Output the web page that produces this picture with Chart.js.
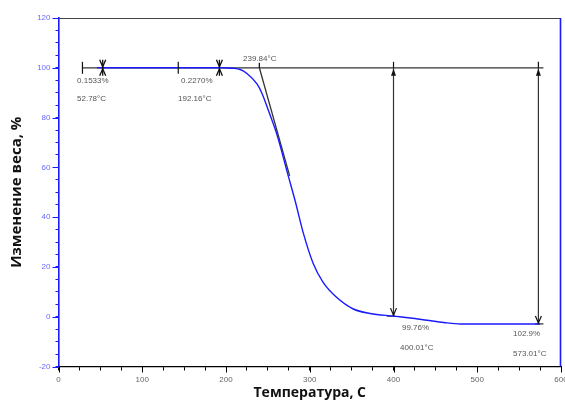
<!DOCTYPE html>
<html><head><meta charset="utf-8">
<script src="https://cdn.jsdelivr.net/npm/chart.js@4/dist/chart.umd.min.js"></script>
<style>html,body{margin:0;padding:0;background:#fff}#wrap{width:565px;height:403px}</style>
</head><body><div id="wrap"><canvas id="c" width="565" height="403"></canvas></div>
<script>
// ---- data ----
const tempC = [46,100,150,195,208,217,225,237,243,251,261,274,283,292,304,316,332,352,372,400,420,440,460,480,575];
const weightPct = [100,100,100,100,99.8,99.3,97.7,93.5,89.7,82.5,73,57,46,34,21.5,13.8,7.8,3.1,1.3,0.24,-0.5,-1.4,-2.3,-2.9,-2.9];
const xTickLabels = [0,100,200,300,400,500,600];
const yTickLabels = [-20,0,20,40,60,80,100,120];
// analysis markers
const onsetT = 239.84, tangentEnd = [276, 56.6];
const baseline = [[28.6,100],[579,100]];
const stepTemps = [52.78, 192.16];
const stepLosses = ['0.1533%','0.2270%'];
const arrowTemps = [400.01, 573.01];
const arrowEnds = [0.24, -2.9];
const arrowLabels = ['99.76%','102.9%'];
// label anchors (data coords)
const labels = [
  {t:'0.1533%', x:22.1, y:94.6},
  {t:'52.78°C', x:22.1, y:87.4},
  {t:'0.2270%', x:146.3, y:94.6},
  {t:'192.16°C', x:142.7, y:87.4},
  {t:'239.84°C', x:220.3, y:103.5},
  {t:'99.76%', x:410.1, y:-4.3},
  {t:'400.01°C', x:407.8, y:-12.3},
  {t:'102.9%', x:542.7, y:-6.7},
  {t:'573.01°C', x:542.7, y:-14.8}
];

const BLUE = '#1a1aff';
const pts = tempC.map((t,i)=>({x:t,y:weightPct[i]}));
const blk = (data,w)=>({data, borderColor:'#333', borderWidth:w||1.2, pointRadius:0, fill:false, tension:0});

const annot = {
  id:'annot',
  afterDatasetsDraw(chart){
    const {ctx, chartArea:a, scales:{x,y}} = chart;
    ctx.save();
    // top and right border
    ctx.lineWidth = 1.2; ctx.strokeStyle = '#444';
    ctx.beginPath(); ctx.moveTo(a.left, a.top+0.5); ctx.lineTo(a.right, a.top+0.5); ctx.stroke();
    ctx.lineWidth = 1.6; ctx.strokeStyle = BLUE;
    ctx.beginPath(); ctx.moveTo(a.right-0.5, a.top); ctx.lineTo(a.right-0.5, a.bottom); ctx.stroke();
    // major ticks longer
    ctx.lineWidth = 1; ctx.strokeStyle = BLUE;
    yTickLabels.forEach(v=>{const p=Math.round(y.getPixelForValue(v))+0.5; ctx.beginPath(); ctx.moveTo(a.left-6,p); ctx.lineTo(a.left,p); ctx.stroke();});
    ctx.strokeStyle = '#000';
    xTickLabels.forEach(v=>{const p=Math.round(x.getPixelForValue(v))+0.5; ctx.beginPath(); ctx.moveTo(p,a.bottom); ctx.lineTo(p,a.bottom+6); ctx.stroke();});
    // markers on baseline
    const yb = y.getPixelForValue(100);
    ctx.strokeStyle = '#111'; ctx.lineWidth = 1.2;
    [baseline[0][0], 143].forEach(t=>{const p=x.getPixelForValue(t); ctx.beginPath(); ctx.moveTo(p,yb-6); ctx.lineTo(p,yb+6); ctx.stroke();});
    stepTemps.forEach(t=>{const p=x.getPixelForValue(t);
      ctx.lineWidth=1.3;
      ctx.beginPath(); ctx.moveTo(p,yb-8); ctx.lineTo(p,yb+8); ctx.stroke();
      ctx.beginPath(); ctx.moveTo(p-3,yb-8); ctx.lineTo(p,yb-1); ctx.lineTo(p+3,yb-8); ctx.stroke();
      ctx.beginPath(); ctx.moveTo(p-3,yb+8); ctx.lineTo(p,yb+1); ctx.lineTo(p+3,yb+8); ctx.stroke();
    });
    {const p=x.getPixelForValue(onsetT); ctx.beginPath(); ctx.moveTo(p,yb-5); ctx.lineTo(p,yb); ctx.stroke();}
    arrowTemps.forEach((t,i)=>{const p=x.getPixelForValue(t); const ye=y.getPixelForValue(arrowEnds[i]);
      ctx.lineWidth=1.2;
      ctx.beginPath(); ctx.moveTo(p,yb-6); ctx.lineTo(p,yb); ctx.stroke();
      ctx.fillStyle='#111';
      ctx.beginPath(); ctx.moveTo(p,yb+1); ctx.lineTo(p-2.5,yb+8); ctx.lineTo(p+2.5,yb+8); ctx.closePath(); ctx.fill();
      ctx.beginPath(); ctx.moveTo(p-3,ye-8); ctx.lineTo(p,ye-1); ctx.lineTo(p+3,ye-8); ctx.stroke();
    });
    // labels
    ctx.fillStyle = '#555'; ctx.font = '8px "Liberation Sans", Arial, sans-serif';
    ctx.textAlign = 'left'; ctx.textBaseline = 'middle';
    labels.forEach(l=>ctx.fillText(l.t, x.getPixelForValue(l.x), y.getPixelForValue(l.y)));
    ctx.restore();
  }
};

new Chart(document.getElementById('c'), {
  type:'line',
  data:{datasets:[
    {data:pts, borderColor:BLUE, borderWidth:1.4, pointRadius:0, fill:false, cubicInterpolationMode:'monotone'},
    blk(baseline.map(p=>({x:p[0],y:p[1]}))),
    blk([{x:onsetT,y:100},{x:tangentEnd[0],y:tangentEnd[1]}],1.3),
    blk([{x:arrowTemps[0],y:100},{x:arrowTemps[0],y:arrowEnds[0]}]),
    blk([{x:arrowTemps[1],y:100},{x:arrowTemps[1],y:arrowEnds[1]}]),
    blk([{x:392,y:arrowEnds[0]},{x:402,y:arrowEnds[0]}]),
    blk([{x:569,y:arrowEnds[1]},{x:579,y:arrowEnds[1]}])
  ]},
  options:{
    responsive:false, animation:false,
    layout:{padding:{top:18,right:4,left:0,bottom:0}},
    plugins:{legend:{display:false}, tooltip:{enabled:false}},
    scales:{
      x:{type:'linear', min:0, max:600,
        border:{color:'#000', width:1.2},
        grid:{drawOnChartArea:false, tickLength:4, color:'#000'},
        ticks:{stepSize:25, autoSkip:false, maxRotation:0, padding:4, color:'#666',
          font:{size:8, family:'"Liberation Sans", Arial, sans-serif'},
          callback:v=> (v%100===0 ? String(v) : '')},
        title:{display:true, text:'Температура, С', color:'#111', padding:{top:0,bottom:2},
          font:{size:14, weight:'bold', family:'"Open Sans", sans-serif'}},
        afterFit(s){ s.height = 403-366.5-0; s.paddingLeft=0; s.paddingRight=0; }
      },
      y:{min:-20, max:120,
        border:{color:BLUE, width:1.6},
        grid:{drawOnChartArea:false, tickLength:3, color:BLUE},
        ticks:{stepSize:5, autoSkip:false, padding:5, color:'#6b6bff',
          font:{size:8, family:'"Liberation Sans", Arial, sans-serif'},
          callback:v=> (v%20===0 ? String(v) : '')},
        title:{display:true, text:'Изменение веса, %', color:'#111', padding:{top:8,bottom:0},
          font:{size:15, weight:'bold', family:'"Open Sans", sans-serif'}},
        afterFit(s){ s.width = 58.5; }
      }
    }
  },
  plugins:[annot]
});
</script></body></html>
